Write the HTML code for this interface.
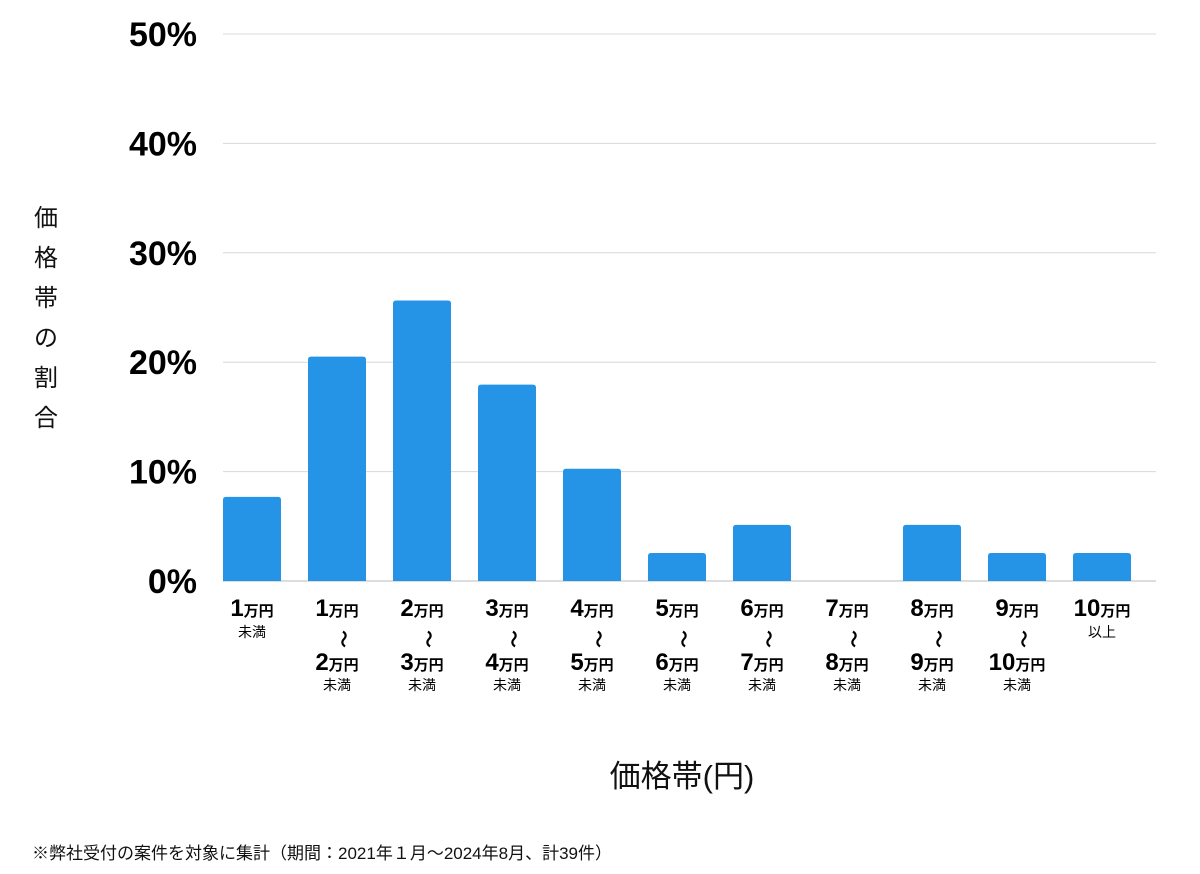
<!DOCTYPE html>
<html><head><meta charset="utf-8"><style>
html,body{margin:0;padding:0;background:#fff;}
svg{display:block;font-family:"Liberation Sans","Noto Sans CJK JP",sans-serif;}
</style></head><body>
<svg id="chart" width="1200" height="874">
<g id="grid"></g><g id="bars"></g><g id="xlabels"></g>
<text x="46" y="0" font-size="24" fill="#111">
<tspan x="34" y="226">価</tspan><tspan x="34" y="266">格</tspan><tspan x="34" y="306">帯</tspan><tspan x="34" y="346">の</tspan><tspan x="34" y="386">割</tspan><tspan x="34" y="426">合</tspan></text>
<text x="682" y="787" font-size="31" text-anchor="middle" fill="#111">価格帯(円)</text>
<text x="32" y="859" font-size="17" fill="#111">※弊社受付の案件を対象に集計（期間：2021年１月〜2024年8月、計39件）</text>
</svg>
<script>
const categories=[["1","未満"],["1","2"],["2","3"],["3","4"],["4","5"],["5","6"],["6","7"],["7","8"],["8","9"],["9","10"],["10","以上"]];
const values=[7.69,20.51,25.64,17.95,10.26,2.56,5.13,0,5.13,2.56,2.56];
const ticks=[0,10,20,30,40,50];
const NS="http://www.w3.org/2000/svg";
const y0=581,pxPer=10.94,x0=252,step=85,bw=58;
const y=v=>y0-v*pxPer, x=i=>x0+i*step;
function mk(t,a,p,txt){const e=document.createElementNS(NS,t);for(const k in a)e.setAttribute(k,a[k]);if(txt!=null)e.textContent=txt;p.appendChild(e);return e;}
const G=document.getElementById('grid'),B=document.getElementById('bars'),L=document.getElementById('xlabels');
ticks.forEach(t=>{
 const l=mk('line',{x1:223,x2:1156,y1:y(t),y2:y(t),stroke:t===0?'#bbb':'#d8d8d8','stroke-width':1},G);
 
 
 const tx=mk('text',{x:197,y:y(t)+12,'font-size':34,'font-weight':'bold','text-anchor':'end',fill:'#000'},G,t+'%');
 
 
});
values.forEach((v,i)=>{
 if(v>0){const r=mk('path',{d:`M${x(i)-bw/2},${y0}V${y(v)+3}q0,-3 3,-3h${bw-6}q3,0 3,3V${y0}Z`,fill:'#2593e6'},B);
 
 }
 const c=categories[i],g=mk('g',{},L);
 
 
 const num=(yy,n)=>{const t=mk('text',{x:x(i),y:yy,'text-anchor':'middle',fill:'#000','font-weight':'bold'},g);
  mk('tspan',{'font-size':24},t,n);mk('tspan',{'font-size':15},t,'万円');};
 if(i===0||i===categories.length-1){num(616,c[0]);mk('text',{x:x(i),y:637,'text-anchor':'middle','font-size':14,fill:'#000'},g,c[1]);}
 else{num(616,c[0]);mk('text',{x:x(i)+5,y:634,'text-anchor':'middle','font-size':18,'font-weight':'bold',fill:'#000',transform:`rotate(90 ${x(i)} 634)`},g,'〜');
  num(670,c[1]);mk('text',{x:x(i),y:690,'text-anchor':'middle','font-size':14,fill:'#000'},g,'未満');}
});
</script>
</body></html>
